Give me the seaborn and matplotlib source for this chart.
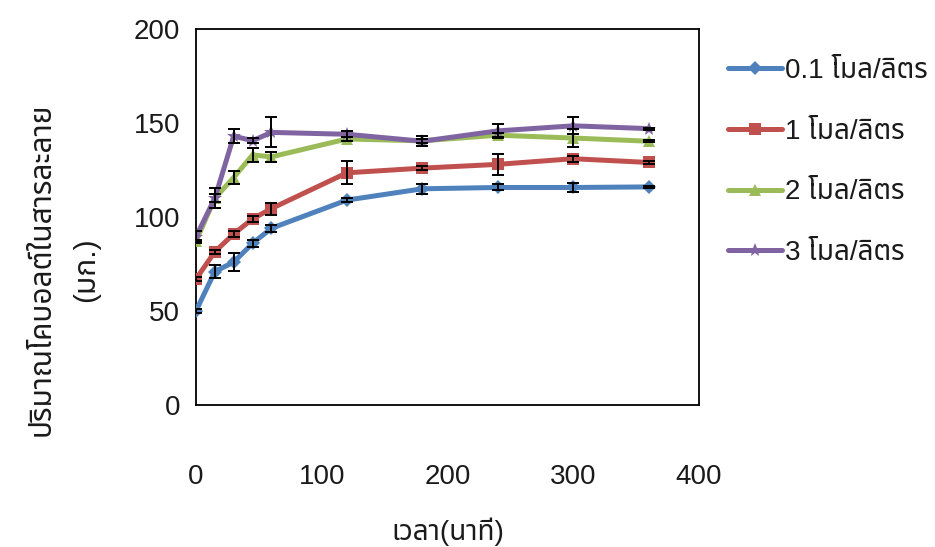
import matplotlib
matplotlib.use("Agg")
import matplotlib.pyplot as plt
from matplotlib import font_manager
from matplotlib.ft2font import FT2Font
from matplotlib.lines import Line2D
import seaborn as sns
import pandas as pd

# Sampling times (minutes)
time_min = [0, 15, 30, 45, 60, 120, 180, 240, 300, 360]

# Dissolved cobalt (mg) for each acid concentration
cobalt_01 = [50, 71, 76, 86, 94, 109, 115, 115.7, 115.7, 116]
cobalt_1 = [67, 81.5, 91, 99, 104.5, 123.5, 126, 128, 131, 129]
cobalt_2 = [87, 110, 121, 133, 132, 141.5, 140.5, 143.5, 142, 140.3]
cobalt_3 = [89.5, 110, 143, 140.6, 145, 144, 140.3, 145.8, 148.5, 147]

# Standard deviations
err_01 = [1, 3.5, 4.7, 2, 2, 1.2, 2.7, 1.6, 2.5, 0.5]
err_1 = [1, 1, 1.5, 1.5, 3.2, 6.2, 1, 5.5, 1.5, 1]
err_2 = [1, 2, 3.5, 3.7, 2.5, 1, 1, 1, 5, 0.5]
err_3 = [3, 5.3, 3.6, 1.5, 8, 1.6, 2.7, 3.8, 4.5, 0.5]

series_labels = ["0.1 โมล/ลิตร", "1 โมล/ลิตร", "2 โมล/ลิตร", "3 โมล/ลิตร"]
x_ticks = [0, 100, 200, 300, 400]
y_ticks = [0, 50, 100, 150, 200]
x_title = "เวลา(นาที)"
y_title = "ปริมาณโคบอลต์ในสารละลาย\n(มก.)"

colors = ["#4F81BD", "#C0504D", "#9BBB59", "#8064A2"]
markers = ["D", "s", "^", "*"]
msizes = [7, 8, 8, 10]


def thai_font():
    """Return an installed family that covers Thai script, if any."""
    preferred = ["Noto Sans Thai", "Noto Sans Thai UI", "Noto Sans Thai Looped",
                 "Loma", "Garuda", "Norasi", "Tlwg Typo", "Waree", "Umpush"]
    found = []
    for f in font_manager.fontManager.ttflist:
        try:
            cmap = FT2Font(f.fname).get_charmap()
        except Exception:
            continue
        if 0x0E01 in cmap and 0x0E21 in cmap:
            found.append(f.name)
    for name in preferred:
        if name in found:
            return name
    return found[0] if found else None


sns.set_theme(style="white")
fam = thai_font()
families = ["Liberation Sans"] + ([fam] if fam else []) + ["DejaVu Sans"]
plt.rcParams["font.family"] = families

TEXT = "#1a1a1a"

fig = plt.figure(figsize=(9.35, 5.47), dpi=100)
ax = fig.add_axes([0.2096, 0.2596, 0.538, 0.6874])

series = [cobalt_01, cobalt_1, cobalt_2, cobalt_3]
errors = [err_01, err_1, err_2, err_3]

frames = []
for lab, vals in zip(series_labels, series):
    frames.append(pd.DataFrame({"time": time_min, "cobalt": vals, "conc": lab}))
df = pd.concat(frames, ignore_index=True)

sns.lineplot(data=df, x="time", y="cobalt", hue="conc", style="conc",
             palette=dict(zip(series_labels, colors)),
             markers=dict(zip(series_labels, markers)),
             dashes=False, linewidth=3.6, markersize=7,
             markeredgewidth=0, legend=False, ax=ax, zorder=3)

for line, ms in zip(ax.get_lines(), msizes):
    line.set_markersize(ms)

for vals, errs in zip(series, errors):
    ax.errorbar(time_min, vals, yerr=errs, fmt="none", ecolor="black",
                elinewidth=1.4, capsize=4.3, capthick=1.4, zorder=4)

ax.set_xlim(0, 400)
ax.set_ylim(0, 200)
ax.set_xticks(x_ticks)
ax.set_yticks(y_ticks)
ax.tick_params(axis="both", direction="out", length=8.5, width=1.2,
               color="black", labelsize=20, labelcolor=TEXT)
ax.tick_params(axis="x", pad=34)
ax.tick_params(axis="y", pad=3)
for s in ax.spines.values():
    s.set_visible(True)
    s.set_color("black")
    s.set_linewidth(1.3)

ax.set_xlabel(x_title, fontsize=20, color=TEXT, labelpad=20)
ax.set_ylabel(y_title, fontsize=21.5, color=TEXT, linespacing=1.75,
              va="center", ha="center")
ax.yaxis.set_label_coords(-0.263, 0.36)

handles = [Line2D([], [], color=c, marker=m, markersize=ms, markeredgewidth=0,
                  linewidth=3.6)
           for c, m, ms in zip(colors, markers, msizes)]
fig.legend(handles, series_labels, loc="upper left",
           bbox_to_anchor=(0.752, 0.94), frameon=False, fontsize=20,
           handlelength=1.95, handletextpad=0.1, labelspacing=1.25,
           numpoints=1, labelcolor=TEXT)

fig.savefig("out.png", dpi=100)
